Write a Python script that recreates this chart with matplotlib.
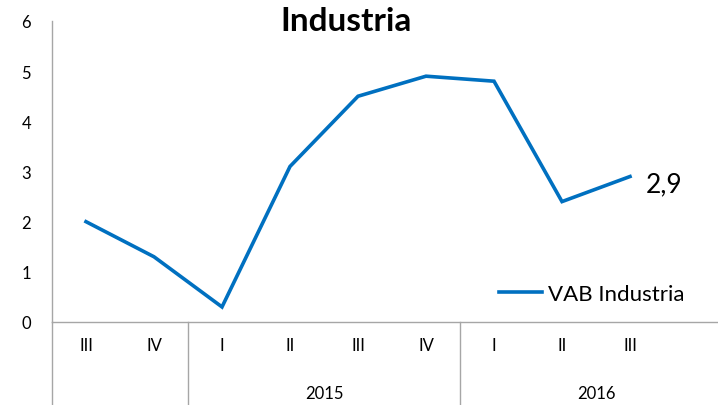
import matplotlib
matplotlib.use('Agg')
import matplotlib.pyplot as plt
from matplotlib.transforms import blended_transform_factory

plt.rcParams['font.family'] = ['Lato', 'DejaVu Sans']

# data
quarters = ['III', 'IV', 'I', 'II', 'III', 'IV', 'I', 'II', 'III', '']
values = [2.0, 1.3, 0.3, 3.1, 4.5, 4.9, 4.8, 2.4, 2.9]
years = ['', '2015', '2016']
year_start = [0, 2, 6]
year_end = [2, 6, 10]

blue = '#0070C0'
gray = '#A6A6A6'

W, H = 718, 406
fig = plt.figure(figsize=(W / 100, H / 100), dpi=100)
# axes in pixel units: left 52, right 732 (cut by figure), top 22, bottom 323
ax = fig.add_axes([52 / W, (H - 323) / H, 680 / W, 301 / H])

x = list(range(len(values)))
ax.plot(x, values, color=blue, lw=2.6, solid_joinstyle='miter', label='VAB Industria')

ax.set_xlim(-0.5, len(quarters) - 0.5)
ax.set_ylim(0, 6)
ax.set_yticks(range(0, 7))
ax.tick_params(axis='y', length=0, labelsize=12, pad=15)
ax.set_xticks(range(len(quarters)))
ax.set_xticklabels(quarters)
ax.tick_params(axis='x', length=0, labelsize=12, pad=11)

for s in ['top', 'right']:
    ax.spines[s].set_visible(False)
for s in ['left', 'bottom']:
    ax.spines[s].set_color(gray)
    ax.spines[s].set_linewidth(1.0)

# multi-level category axis
tr = blended_transform_factory(ax.transData, ax.transAxes)
ext = -83 / 301
ax.plot([-0.5, -0.5], [0, ext], color=gray, lw=1.0, transform=tr, clip_on=False)
for yr, a, b in zip(years, year_start, year_end):
    if a > 0:
        ax.plot([a - 0.5, a - 0.5], [0, ext], color=gray, lw=1.0, transform=tr, clip_on=False)
    ax.text((a + b - 1) / 2, -71 / 301, yr, transform=tr, ha='center', va='center', fontsize=12)

# last value label
ax.annotate(f'{values[-1]:.1f}'.replace('.', ','), (x[-1], values[-1]),
            xytext=(11, -5), textcoords='offset points', ha='left', va='center', fontsize=19)

ax.text((346 - 52) / 680, 1.0, 'Industria', transform=ax.transAxes, ha='center', va='center',
        fontsize=24, fontweight='bold')

ax.legend(loc='center left', bbox_to_anchor=((499 - 52) / 680, (323 - 295) / 301),
          frameon=False, fontsize=16, handlelength=1.95, handletextpad=0.25,
          borderpad=0, borderaxespad=0)

fig.savefig('out.png', dpi=100, facecolor='white')
